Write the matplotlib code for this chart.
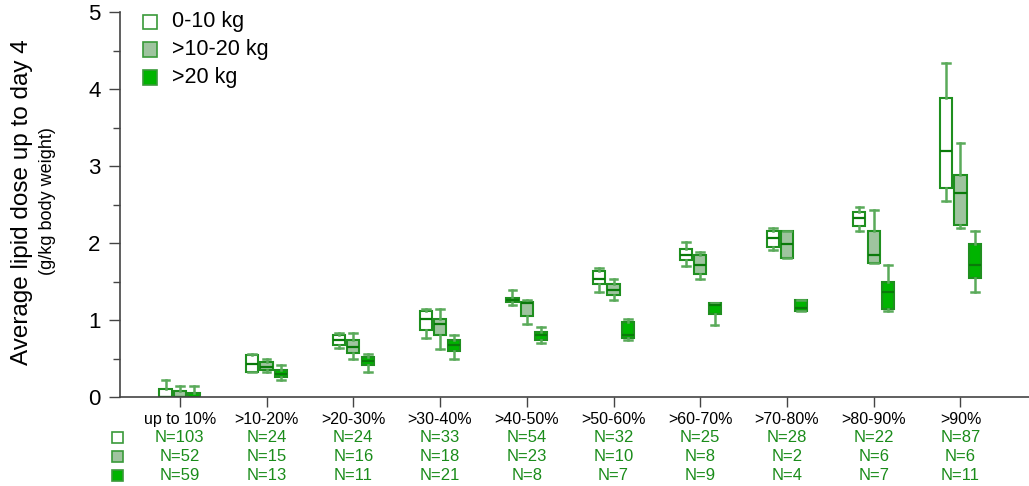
import matplotlib
import numpy as np
from matplotlib import pyplot as plt
from matplotlib import transforms

matplotlib.use("Agg")

plt.rcParams['font.family'] = ['Liberation Sans', 'DejaVu Sans']

# Data
CATEGORIES = ["up to 10%", ">10-20%", ">20-30%", ">30-40%", ">40-50%",
              ">50-60%", ">60-70%", ">70-80%", ">80-90%", ">90%"]
GROUPS = ["0-10 kg", ">10-20 kg", ">20 kg"]

# (whislo, q1, med, q3, whishi) per category
STATS_0_10 = [
    (0.00, 0.00, 0.00, 0.11, 0.22),
    (0.32, 0.32, 0.43, 0.54, 0.56),
    (0.64, 0.68, 0.74, 0.81, 0.83),
    (0.77, 0.87, 1.01, 1.12, 1.15),
    (1.19, 1.23, 1.26, 1.29, 1.39),
    (1.36, 1.47, 1.53, 1.64, 1.67),
    (1.70, 1.78, 1.85, 1.92, 2.02),
    (1.91, 1.95, 2.06, 2.16, 2.19),
    (2.16, 2.22, 2.33, 2.40, 2.47),
    (2.54, 2.72, 3.20, 3.89, 4.34),
]
STATS_10_20 = [
    (0.00, 0.00, 0.00, 0.08, 0.15),
    (0.32, 0.35, 0.39, 0.46, 0.50),
    (0.49, 0.57, 0.65, 0.74, 0.83),
    (0.63, 0.81, 0.95, 1.01, 1.15),
    (0.95, 1.05, 1.22, 1.23, 1.26),
    (1.26, 1.33, 1.39, 1.47, 1.53),
    (1.53, 1.60, 1.71, 1.85, 1.88),
    (1.81, 1.81, 1.99, 2.16, 2.16),
    (1.74, 1.74, 1.85, 2.16, 2.43),
    (2.19, 2.23, 2.65, 2.88, 3.30),
]
STATS_20 = [
    (0.00, 0.00, 0.00, 0.05, 0.15),
    (0.22, 0.26, 0.30, 0.35, 0.42),
    (0.32, 0.42, 0.47, 0.52, 0.56),
    (0.50, 0.60, 0.67, 0.74, 0.81),
    (0.70, 0.74, 0.81, 0.84, 0.91),
    (0.74, 0.77, 0.81, 0.98, 1.02),
    (0.94, 1.08, 1.20, 1.22, 1.22),
    (1.12, 1.12, 1.16, 1.26, 1.26),
    (1.12, 1.15, 1.36, 1.50, 1.71),
    (1.36, 1.54, 1.71, 1.99, 2.16),
]

N_0_10 = [103, 24, 24, 33, 54, 32, 25, 28, 22, 87]
N_10_20 = [52, 15, 16, 18, 23, 10, 8, 2, 6, 6]
N_20 = [59, 13, 11, 21, 8, 7, 9, 4, 7, 11]

EDGE = "#1f8f1f"
WHISK = "#5aaa5a"
FILLS = ["white", "#9fc49f", "#00b400"]
TEXT_GREEN = "#1a8c1a"

fig = plt.figure(figsize=(10.29, 4.86), dpi=100)
ax = fig.add_axes([0.1166, 0.183, 0.8834, 0.7922])

offsets = [-0.165, 0.0, 0.165]
x = np.arange(len(CATEGORIES))
for stats, off, fill in zip([STATS_0_10, STATS_10_20, STATS_20], offsets, FILLS):
    bstats = [dict(whislo=s[0], q1=s[1], med=s[2], q3=s[3], whishi=s[4], fliers=[])
              for s in stats]
    ax.bxp(bstats, positions=x + off, widths=0.14, patch_artist=True,
           showfliers=False, capwidths=0.09,
           boxprops=dict(facecolor=fill, edgecolor=EDGE, linewidth=1.5),
           medianprops=dict(color="#0a7a0a", linewidth=1.6),
           whiskerprops=dict(color=WHISK, linewidth=1.8),
           capprops=dict(color=WHISK, linewidth=1.8))

ax.set_xlim(-0.69, 9.79)
ax.set_ylim(0, 5)
ax.set_yticks([0, 1, 2, 3, 4, 5])
ax.set_yticks(np.arange(0.5, 5, 1.0), minor=True)
ax.tick_params(axis="y", labelsize=16, length=8, width=1, colors="#444444",
               labelcolor="black", pad=6)
ax.tick_params(axis="y", which="minor", length=5, width=1, colors="#444444")
ax.set_xticks(x)
ax.set_xticklabels(CATEGORIES, fontsize=11.5)
ax.tick_params(axis="x", length=7, width=1, colors="#444444", labelcolor="black", pad=4)
for side in ["top", "right"]:
    ax.spines[side].set_visible(False)
for side in ["left", "bottom"]:
    ax.spines[side].set_color("#444444")
    ax.spines[side].set_linewidth(1.2)

fig.text(0.021, 0.584, "Average lipid dose up to day 4", rotation=90,
         fontsize=17.5, ha="center", va="center")
fig.text(0.046, 0.586, "(g/kg body weight)", rotation=90,
         fontsize=13, ha="center", va="center")

# legend
for i, (lab, fill) in enumerate(zip(GROUPS, FILLS)):
    yy = 0.955 - i * 0.057
    fig.patches.append(plt.Rectangle((0.139, yy - 0.015), 0.0136, 0.030,
                                     transform=fig.transFigure, facecolor=fill,
                                     edgecolor="#3a9a3a", linewidth=1.2))
    fig.text(0.167, yy, lab, fontsize=15.5, va="center")

# N rows under the axis
row_trans = transforms.blended_transform_factory(ax.transData, fig.transFigure)
for j, (ns, fill) in enumerate(zip([N_0_10, N_10_20, N_20], FILLS)):
    yy = 0.099 - j * 0.039
    fig.patches.append(plt.Rectangle((0.109, yy - 0.011), 0.0107, 0.023,
                                     transform=fig.transFigure, facecolor=fill,
                                     edgecolor="#3a9a3a", linewidth=1.2))
    for xi, n in zip(x, ns):
        ax.text(xi, yy, f"N={n}", transform=row_trans,
                ha="center", va="center", fontsize=12, color=TEXT_GREEN)

fig.savefig("out.png", dpi=100)
